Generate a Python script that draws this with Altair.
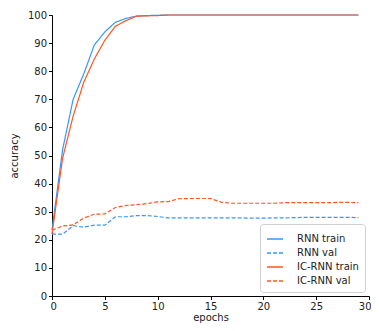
import altair as alt
import pandas as pd

epochs = list(range(30))
rnn_train = [23.5, 52, 70, 79, 89.3, 94, 97.4, 98.8, 99.6, 99.8, 99.9] + [100] * 19
rnn_val = [22, 22, 25, 24.5, 25.2, 25.2, 28.2, 28.2, 28.6, 28.6, 28.3, 27.8, 27.8, 27.8, 27.8,
           27.8, 27.8, 27.8, 27.8, 27.7, 27.7, 27.8, 27.8, 27.9, 28, 28, 28, 28, 28, 27.9]
ic_train = [22, 49, 64, 76, 84.3, 91, 96, 98, 99.6, 99.7, 99.8] + [100] * 19
ic_val = [23.4, 24.9, 25.3, 27.7, 29.1, 29.2, 31.5, 32.2, 32.5, 32.9, 33.5, 33.6, 34.6, 34.7, 34.7,
          34.7, 33.4, 33.0, 33.0, 33.0, 33.0, 33.0, 33.2, 33.2, 33.2, 33.2, 33.2, 33.3, 33.3, 33.2]

names = ["RNN train", "RNN val", "IC-RNN train", "IC-RNN val"]
series = [rnn_train, rnn_val, ic_train, ic_val]
colors = ["#3399ff", "#3399ff", "#ff5522", "#ff5522"]
dashes = [[1, 0], [4, 2], [1, 0], [4, 2]]

rows = []
for n, s in zip(names, series):
    for e, v in zip(epochs, s):
        rows.append({"epoch": e, "acc": v, "series": n})
df = pd.DataFrame(rows)

font = "DejaVu Sans"

chart = alt.Chart(df).mark_line(strokeWidth=1.2).encode(
    x=alt.X("epoch:Q", title="epochs",
            scale=alt.Scale(domain=[0, 30], nice=False),
            axis=alt.Axis(values=[0, 5, 10, 15, 20, 25, 30], grid=False, domainColor="black",
                          tickColor="black", tickSize=3.5, labelFontSize=10, titleFontSize=10,
                          labelColor="#222", titleColor="#222", titleFontWeight="normal",
                          labelFont=font, titleFont=font, titlePadding=1, labelPadding=2,
                          labelFlush=True, labelFlushOffset=2)),
    y=alt.Y("acc:Q", title="accuracy",
            scale=alt.Scale(domain=[0, 100], nice=False),
            axis=alt.Axis(values=list(range(0, 101, 10)), grid=False, domainColor="black",
                          tickColor="black", tickSize=3.5, labelFontSize=10, titleFontSize=10,
                          labelColor="#222", titleColor="#222", titleFontWeight="normal",
                          labelFont=font, titleFont=font, titlePadding=8, labelPadding=2)),
    color=alt.Color("series:N", title=None,
                    scale=alt.Scale(domain=names, range=colors),
                    legend=alt.Legend(orient="none", legendX=208, legendY=209,
                                      symbolType="stroke", symbolSize=256, symbolStrokeWidth=1.5,
                                      labelFontSize=10, labelFont=font, labelColor="#222",
                                      padding=6, rowPadding=0, strokeColor="#d0d0d0",
                                      fillColor="white", cornerRadius=3, labelOffset=13)),
    strokeDash=alt.StrokeDash("series:N", title=None,
                              scale=alt.Scale(domain=names, range=dashes)),
).properties(
    width=317, height=281,
    autosize=alt.AutoSizeParams(type="none"),
    padding={"left": 44, "top": 7, "right": 2, "bottom": 27},
).configure_view(stroke=None)

chart.save("out.html", embed_options={"renderer": "svg", "actions": False})
